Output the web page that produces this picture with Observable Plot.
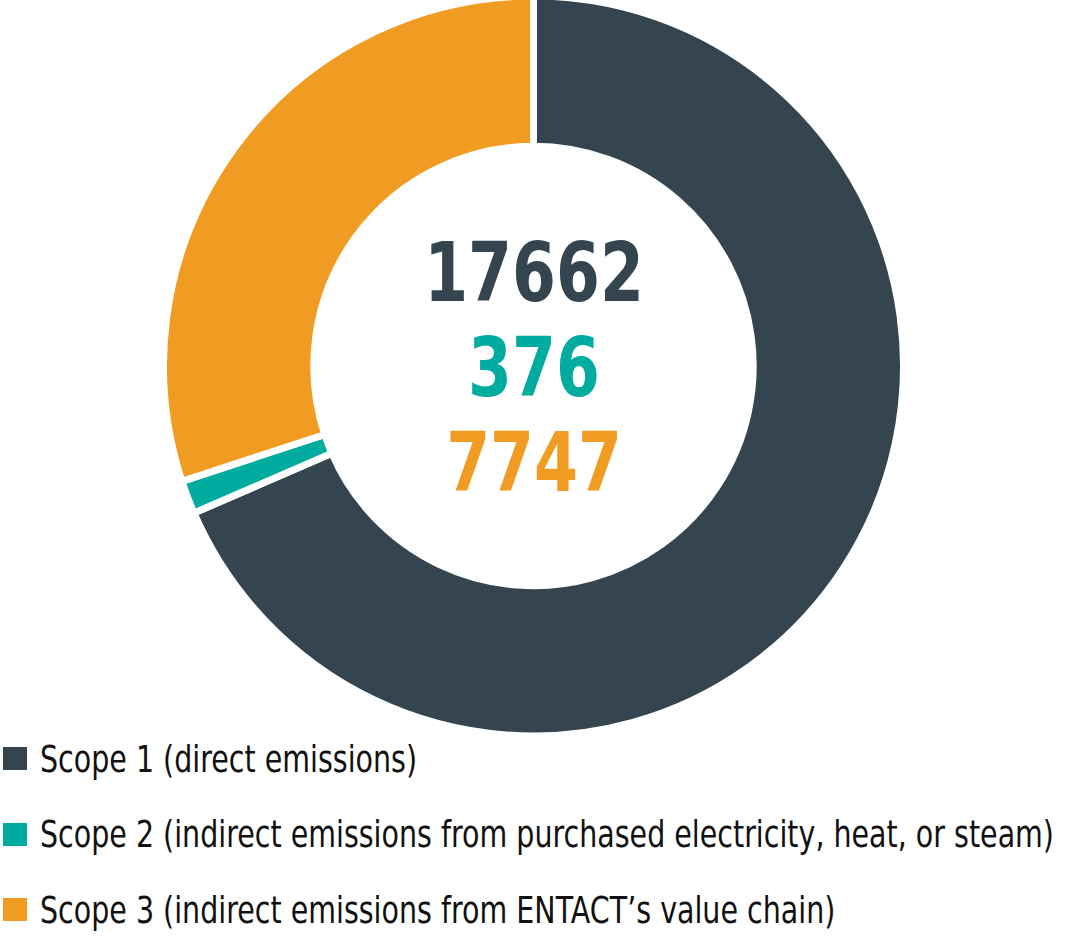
<!DOCTYPE html>
<html>
<head>
<meta charset="utf-8">
<script src="https://cdn.jsdelivr.net/npm/d3@7"></script>
<script src="https://cdn.jsdelivr.net/npm/@observablehq/plot@0.6"></script>
<style>
  html, body { margin: 0; padding: 0; background: #fff; }
  #chart svg { display: block; }
  #legend { margin-top: -14px; font-family: "DejaVu Sans", sans-serif; font-size: 38px; color: #111; }
  .row { height: 75.5px; display: flex; align-items: center; position: relative; }
  .sw { position: absolute; left: 3px; width: 24px; height: 23px; }
  .lb { position: absolute; left: 40px; white-space: nowrap; transform: scaleX(0.75); transform-origin: 0 50%; }
</style>
</head>
<body>
<div id="chart"></div>
<div id="legend"></div>
<script>
const categories = ["Scope 1", "Scope 2", "Scope 3"];
const values = [17662, 376, 7747];
const labels = [
  "Scope 1 (direct emissions)",
  "Scope 2 (indirect emissions from purchased electricity, heat, or steam)",
  "Scope 3 (indirect emissions from ENTACT’s value chain)"
];
const colors = ["#35454f", "#00aba0", "#f09c22"];

const data = categories.map((scope, i) => ({scope, value: values[i], label: labels[i]}));

function donut(index, scales) {
  const cx = scales.x(0), cy = scales.y(0);
  const r = scales.x(1) - scales.x(0);
  const gap = 7;
  const pie = d3.pie().sort(null).value(d => d.value)(data);
  const arc = d3.arc().innerRadius(r * 0.609 - gap / 2).outerRadius(r + gap / 2);
  const g = d3.create("svg:g").attr("transform", `translate(${cx},${cy})`);
  g.selectAll("path").data(pie).join("path")
    .attr("d", arc)
    .attr("fill", d => scales.color(d.data.scope))
    .attr("stroke", "white")
    .attr("stroke-width", gap)
    .attr("stroke-linejoin", "miter");
  return g.node();
}

const plot = Plot.plot({
  width: 1065,
  height: 735,
  marginLeft: 167,
  marginRight: 165,
  marginTop: 0,
  marginBottom: 3,
  x: {domain: [-1, 1], axis: null},
  y: {domain: [-1, 1], axis: null},
  color: {domain: categories, range: colors},
  marks: [
    donut,
    Plot.text(data, {
      x: () => 0,
      y: (d, i) => (1 - i) * 0.259,
      dy: 3,
      text: d => String(d.value),
      fill: "scope",
      fontSize: 82,
      fontWeight: "bold",
      fontFamily: "'DejaVu Sans', sans-serif",
      textAnchor: "middle",
      lineAnchor: "middle"
    })
  ]
});
// condense the bold numbers horizontally around their anchor
d3.select(plot).selectAll('g[aria-label="text"] text').attr("transform", function() {
  return (this.getAttribute("transform") || "") + " scale(0.77,1)";
});
document.getElementById("chart").appendChild(plot);

const color = plot.scale("color");
const legend = d3.select("#legend");
const rows = legend.selectAll(".row").data(data).join("div").attr("class", "row");
rows.append("div").attr("class", "sw").style("background", d => color.apply(d.scope));
rows.append("div").attr("class", "lb").text(d => d.label);
</script>
</body>
</html>
